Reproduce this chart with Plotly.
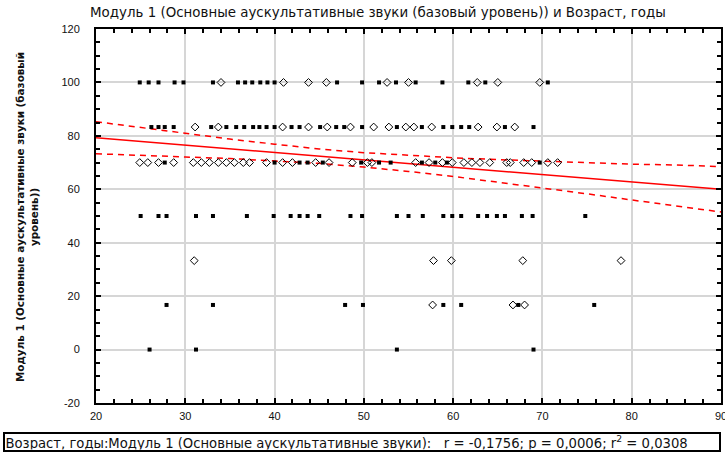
import plotly.graph_objects as go

# ---------------- data ----------------
row100_sq = [24.9, 25.9, 27.0, 28.8, 29.8, 33.1, 35.9, 36.7, 37.5, 38.4, 39.2, 40.0, 47.0, 49.8,
             51.7, 53.6, 55.8, 58.8, 61.7, 63.6, 70.6]
row100_dm = [34.0, 41.0, 43.8, 45.8, 52.6, 55.0, 62.7, 65.0, 69.7]
row83_sq = [26.2, 27.0, 27.7, 28.7, 32.9, 34.6, 35.7, 36.6, 37.6, 38.3, 39.1, 40.0, 41.9, 42.8,
            45.1, 46.9, 47.8, 49.8, 53.7, 56.5, 58.9, 59.9, 60.9, 61.8, 65.8, 69.0]
row83_dm = [31.1, 33.7, 40.9, 43.8, 45.9, 48.5, 51.1, 52.8, 54.7, 55.6, 57.6, 62.8, 64.9, 66.9]
row70_sq = [27.7, 40.0, 42.8, 43.7, 45.4, 49.7, 51.7, 53.0, 56.5, 58.0, 59.3, 69.7]
row70_dm = [24.9, 25.8, 27.0, 28.7, 30.9, 31.8, 32.7, 33.7, 34.6, 35.5, 36.5, 37.2, 39.1, 40.9,
            42.0, 44.6, 46.1, 48.7, 50.4, 50.9, 55.8, 57.3, 58.8, 59.9, 61.2, 62.1, 63.0, 64.1,
            66.0, 66.4, 67.9, 68.8, 70.6, 71.7]
row50_sq = [25.0, 27.0, 27.9, 31.2, 33.1, 36.9, 39.9, 41.8, 42.8, 43.7, 45.0, 48.5, 49.8, 53.7,
            55.0, 56.6, 58.9, 59.9, 60.9, 62.8, 63.8, 64.9, 65.8, 67.7, 68.9, 74.8]
row33_dm = [31.0, 57.8, 59.8, 67.8, 78.8]
row17_sq = [27.9, 33.1, 47.9, 49.9, 58.9, 60.9, 67.3, 75.8]
row17_dm = [57.7, 66.7, 68.0]
row0_sq = [26.0, 31.2, 53.7, 69.0]

score_levels = [100.0, 83.3, 70.0, 50.0, 33.3, 16.7, 0.0]

fit_x = [20, 90]
fit_y = [79.3, 60.0]
band_x = [20, 25, 30, 35, 40, 45, 50, 55, 60, 65, 70, 75, 80, 85, 90]
band_upper = [85.3, 83.1, 80.9, 78.8, 76.9, 75.1, 73.7, 72.7, 71.8, 71.1, 70.5, 69.9, 69.4, 69.1, 68.5]
band_lower = [73.3, 72.8, 72.1, 71.5, 70.7, 69.7, 68.3, 66.7, 64.8, 62.7, 60.5, 58.3, 56.0, 53.7, 51.5]

x_ticks = [20, 30, 40, 50, 60, 70, 80, 90]
y_ticks = [-20, 0, 20, 40, 60, 80, 100, 120]

title_text = "Модуль 1 (Основные аускультативные звуки (базовый уровень)) и Возраст, годы"
ytitle_text = "<b>Модуль 1 (Основные аускультативные звуки (базовый<br>уровень))</b>"
stats_text = ("Возраст, годы:Модуль 1 (Основные аускультативные звуки):   "
              "r = -0,1756; p = 0,0006; r<sup>2</sup> = 0,0308")

# ---------------- build ----------------
sq_groups = [(row100_sq, score_levels[0]), (row83_sq, score_levels[1]), (row70_sq, score_levels[2]),
             (row50_sq, score_levels[3]), (row17_sq, score_levels[5]), (row0_sq, score_levels[6])]
dm_groups = [(row100_dm, score_levels[0]), (row83_dm, score_levels[1]), (row70_dm, score_levels[2]),
             (row33_dm, score_levels[4]), (row17_dm, score_levels[5])]

sq_x, sq_y = [], []
for xs, lvl in sq_groups:
    sq_x += xs
    sq_y += [lvl] * len(xs)
dm_x, dm_y = [], []
for xs, lvl in dm_groups:
    dm_x += xs
    dm_y += [lvl] * len(xs)

FONT = "Liberation Sans, Arial, sans-serif"
WIDE = "DejaVu Sans, sans-serif"
fig = go.Figure()

fig.add_trace(go.Scatter(x=band_x, y=band_upper, mode="lines",
                         line=dict(color="#ff0000", width=1.5, dash="6px,5px"),
                         hoverinfo="skip", showlegend=False))
fig.add_trace(go.Scatter(x=band_x, y=band_lower, mode="lines",
                         line=dict(color="#ff0000", width=1.5, dash="6px,5px"),
                         hoverinfo="skip", showlegend=False))
fig.add_trace(go.Scatter(x=fit_x, y=fit_y, mode="lines",
                         line=dict(color="#ff0000", width=1.5),
                         showlegend=False))
fig.add_trace(go.Scatter(x=sq_x, y=sq_y, mode="markers",
                         marker=dict(symbol="square", size=4, color="black"),
                         showlegend=False))
fig.add_trace(go.Scatter(x=dm_x, y=dm_y, mode="markers",
                         marker=dict(symbol="diamond-open", size=6, color="black",
                                     line=dict(width=1, color="black")),
                         showlegend=False))

axis_common = dict(
    showline=True, linecolor="black", linewidth=2, mirror="allticks",
    showgrid=True, gridcolor="#d6d6d6", gridwidth=1.5, automargin=False,
    ticklabeloverflow="allow",
    zeroline=False, ticks="inside", ticklen=5, tickcolor="black", tickwidth=1.5,
    tickfont=dict(family=FONT, size=11, color="#111111"),
)
fig.update_xaxes(range=[20, 90], tickvals=x_ticks, ticktext=[str(v) for v in x_ticks],
                 ticklabelstandoff=2,
                 minor=dict(dtick=2, ticks="inside", ticklen=4, tickcolor="black", showgrid=False),
                 **axis_common)
fig.update_yaxes(range=[-20, 120], tickvals=y_ticks, ticktext=[str(v) for v in y_ticks],
                 ticklabelstandoff=12,
                 minor=dict(dtick=5, ticks="inside", ticklen=4, tickcolor="black", showgrid=False),
                 **axis_common)

fig.update_layout(
    width=725, height=454,
    margin=dict(l=96, r=4, t=29, b=51),
    paper_bgcolor="white", plot_bgcolor="white",
    font=dict(family=FONT, size=11, color="#111111"),
    annotations=[
        dict(text=title_text, xref="paper", yref="paper", x=(378 - 96) / 625, y=1.0,
             yshift=17, showarrow=False, xanchor="center", yanchor="middle",
             font=dict(family=WIDE, size=13.4, color="#111111")),
        dict(text=ytitle_text, xref="paper", yref="paper", x=(27 - 96) / 625, y=0.5,
             yshift=-1, textangle=-90, showarrow=False, xanchor="center", yanchor="middle",
             font=dict(family=WIDE, size=10.4, color="#111111")),
        dict(text=stats_text, xref="paper", yref="paper", x=(3 - 96) / 625, y=0,
             yshift=-29, showarrow=False, xanchor="left", yanchor="top", align="left",
             width=713, height=15, bordercolor="black", borderwidth=2, borderpad=0.5,
             font=dict(family=WIDE, size=13.2, color="#111111")),
    ],
)

fig.write_html("out.html", config={"displayModeBar": False},
               post_script="document.body.style.margin='0px';document.body.style.overflow='hidden';")
